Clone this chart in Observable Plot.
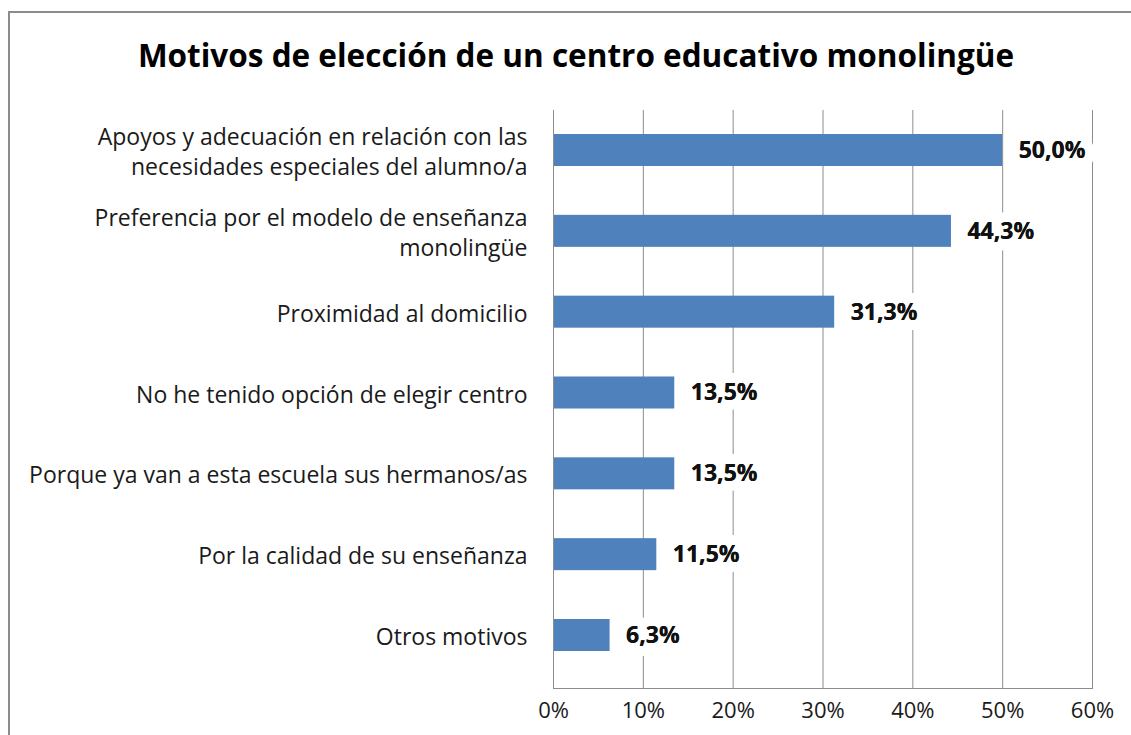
<!DOCTYPE html>
<html>
<head>
<meta charset="utf-8">
<script src="https://cdn.jsdelivr.net/npm/d3@7"></script>
<script src="https://cdn.jsdelivr.net/npm/@observablehq/plot@0.6"></script>
<style>
  html, body { margin: 0; padding: 0; background: #fff; }
  body { width: 1131px; height: 735px; position: relative; overflow: hidden; font-family: "Open Sans", sans-serif; }
  #frame { position: absolute; left: 8px; top: 11px; width: 1200px; height: 800px; border: 2px solid #8c8c8c; box-sizing: border-box; }
  #title { position: absolute; left: 0; width: 1152px; top: 34px; text-align: center; font-size: 31.5px; font-weight: bold; color: #000; line-height: 42px; }
  #chart { position: absolute; left: 0; top: 0; }
</style>
</head>
<body>
<div id="frame"></div>
<div id="chart"></div>
<div id="title">Motivos de elección de un centro educativo monolingüe</div>
<script>
const categories = [
  "Apoyos y adecuación en relación con las\nnecesidades especiales del alumno/a",
  "Preferencia por el modelo de enseñanza\nmonolingüe",
  "Proximidad al domicilio",
  "No he tenido opción de elegir centro",
  "Porque ya van a esta escuela sus hermanos/as",
  "Por la calidad de su enseñanza",
  "Otros motivos"
];
const values = [50.0, 44.3, 31.3, 13.5, 13.5, 11.5, 6.3];
const xTicks = [0, 10, 20, 30, 40, 50, 60];

const data = categories.map((c, i) => ({category: c, value: values[i]}));
const fmt = v => v.toFixed(1).replace(".", ",") + "%";
const font = "'Open Sans', sans-serif";

const chart = Plot.plot({
  width: 1131,
  height: 735,
  marginLeft: 553,
  marginRight: 39,
  marginTop: 110,
  marginBottom: 47,
  style: {fontFamily: font, background: "transparent", color: "#1a1a1a"},
  x: {domain: [0, 60], ticks: xTicks},
  y: {domain: categories, range: [134, 651], paddingInner: 0.604, paddingOuter: 0, round: false},
  marks: [
    Plot.gridX(xTicks, {stroke: "#8c8c8c", strokeOpacity: 1, strokeWidth: 1}),
    Plot.frame({anchor: "bottom", stroke: "#8c8c8c"}),
    Plot.barX(data, {y: "category", x: "value", fill: "#4f81bd"}),
    Plot.text(data, {
      y: "category", x: "value", text: d => fmt(d.value),
      textAnchor: "start", dx: 16, fontSize: 23, fontWeight: "bold", fill: "#111",
      stroke: "white", strokeWidth: 20, strokeLinejoin: "round", paintOrder: "stroke"
    }),
    Plot.text(data, {
      y: "category", x: "value", text: d => fmt(d.value),
      textAnchor: "start", dx: 16, fontSize: 23, fontWeight: "bold", fill: "#111"
    }),
    Plot.ruleX([0], {stroke: "#8c8c8c"}),
    Plot.axisY({tickSize: 0, tickPadding: 26, fontSize: 23, lineHeight: 1.3, fill: "#1a1a1a", label: null}),
    Plot.axisX(xTicks, {tickSize: 0, tickPadding: 14, fontSize: 22, fill: "#1a1a1a", tickFormat: d => d + "%", label: null})
  ]
});
document.getElementById("chart").appendChild(chart);
</script>
</body>
</html>
